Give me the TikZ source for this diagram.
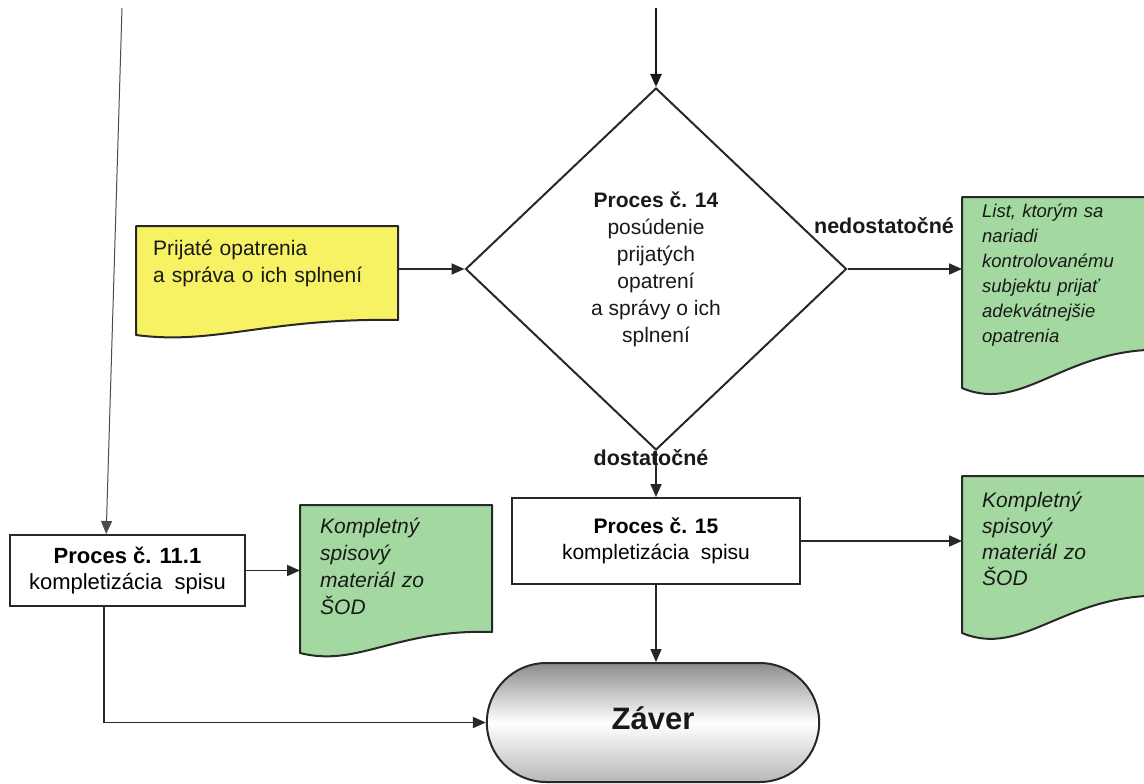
\documentclass[tikz,border=0pt]{standalone}
\usepackage{fontspec}
\setmainfont{Liberation Sans}
\usetikzlibrary{shapes.geometric,shapes.misc,arrows.meta,calc}
\definecolor{docyellow}{RGB}{247,241,100}
\definecolor{docgreen}{RGB}{163,217,160}
\definecolor{ink}{RGB}{40,40,40}
\newcommand\wavedoc[6]{%
  \filldraw[fill=#6, draw=ink, line width=2pt, line join=round]
    (#1,#2) -- (#3,#2) -- (#3,#5)
    .. controls ({#1+0.5*(#3-#1)},{#5-0.15*(#4-#5)}) and ({#1+0.3*(#3-#1)},{#4+0.7*(#4-#5)}) .. (#1,#4) -- cycle;}
\begin{document}
\begin{tikzpicture}[x={(1pt,0)}, y={(0,-1pt)},
  arr/.style={draw=ink, line width=1.8pt, -{Triangle[length=13pt,width=11pt]}},
  procbox/.style={draw=ink, line width=2pt, fill=white, align=center, inner sep=0pt},
  doctext/.style={anchor=north west, inner ysep=0pt, inner xsep=20pt, align=left, text=black!90},
  lbl/.style={font=\bfseries\fontsize{21.5}{25}\selectfont, anchor=base, inner sep=0pt, text=black!90}]

\useasboundingbox (0,0) rectangle (1144,784);
\clip (0,0) rectangle (1144,784);
\fill[white] (0,0) rectangle (1144,784);

% document shapes
\wavedoc{136}{226}{398}{335}{320}{docyellow}
\wavedoc{962}{197}{1170}{388}{350}{docgreen}
\wavedoc{300}{505}{492}{653}{632}{docgreen}
\wavedoc{962}{476}{1170}{633}{596}{docgreen}

% document texts
\node[doctext, inner xsep=17pt, text width=228pt, font=\fontsize{21}{27}\selectfont] (yel) at (136,239.7)
  {Prijaté opatrenia\\a správa o ich splnení};
\node[doctext, text width=150pt, font=\itshape\fontsize{18.5}{25}\selectfont] (d2) at (962,203.5)
  {List, ktorým sa\\nariadi\\kontrolovanému\\subjektu prijať\\adekvátnejšie\\opatrenia};
\node[doctext, text width=152pt, font=\itshape\fontsize{21}{27}\selectfont] (d1) at (300,517.7)
  {Kompletný\\spisový\\materiál zo\\ŠOD};
\node[doctext, text width=150pt, font=\itshape\fontsize{21}{26}\selectfont] (d3) at (962,491.7)
  {Kompletný\\spisový\\materiál zo\\ŠOD};

% decision
\node[diamond, draw=ink, line width=2pt, fill=white, minimum width=381pt, minimum height=362pt,
      inner sep=0pt, align=center, text=black!90, font=\fontsize{21}{27}\selectfont] (dia) at (656,269)
  {\textbf{Proces č. 14}\\posúdenie\\prijatých\\opatrení\\a správy o ich\\splnení};

% process boxes
\node[procbox, minimum width=235pt, minimum height=71pt, font=\fontsize{22}{25.5}\selectfont] (p11) at (127.5,570.5)
  {\textbf{Proces č. 11.1}\\kompletizácia\ \ spisu};
\node[procbox, minimum width=288pt, minimum height=86pt, font=\fontsize{21}{26}\selectfont] (p15) at (656,541)
  {\textbf{Proces č. 15}\\kompletizácia\ \ spisu};

% terminator
\node[rounded rectangle, draw=ink, line width=2pt, minimum width=339pt, minimum height=119pt,
      top color=black!45, bottom color=black!28, middle color=white,
      font=\bfseries\fontsize{31}{36}\selectfont, text=black!90] (zav) at (653,722.5)
  {\raisebox{9pt}{Záver}};

% connectors
\coordinate (topL) at (122,8);
\coordinate (topC) at (656,8);
\draw[draw=black!70, line width=1pt, -{Triangle[length=13pt,width=11pt]}] (topL) -- ($(p11.north west)!0.41!(p11.north east)$);
\draw[arr, line width=2.4pt, draw=black!90] (topC) -- (dia.north);
\draw[arr] (dia.west -| yel.east) -- (dia.west);
\draw[arr] (dia.east) -- (dia.east -| d2.west);
\draw[arr] (dia.south) -- (p15.north);
\draw[arr] (p11.east) -- (p11.east -| d1.west);
\draw[arr] (p15.east) -- (p15.east -| d3.west);
\draw[arr] (p15.south) -- (p15.south |- zav.north);
\draw[arr] ($(p11.south west)!0.4!(p11.south east)$) |- (zav.west);

% labels
\node[lbl] (lno) at (884,233) {nedostatočné};
\node[lbl] (lyes) at (651,465) {dostatočné};
\end{tikzpicture}
\end{document}
